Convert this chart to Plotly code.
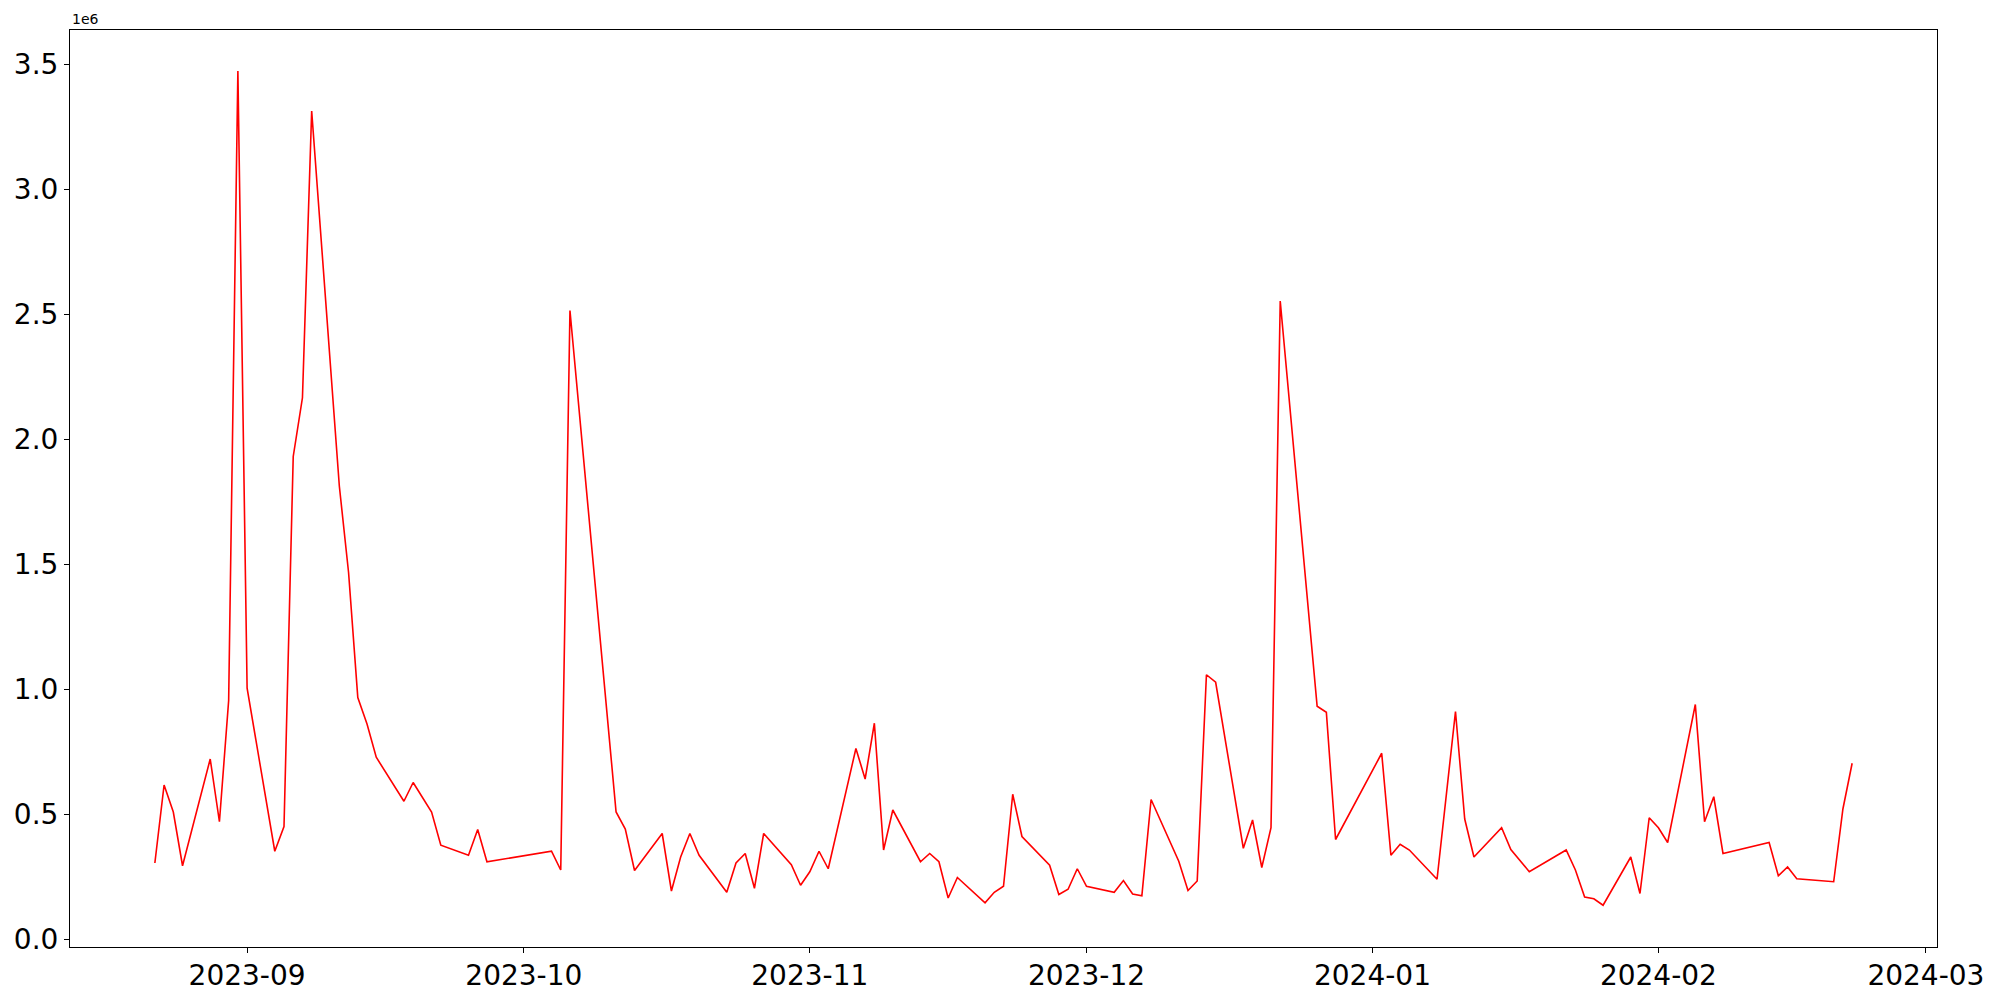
import plotly.graph_objects as go

dates = [
    "2023-08-22", "2023-08-23", "2023-08-24", "2023-08-25", "2023-08-28", "2023-08-29", "2023-08-30", "2023-08-31",
    "2023-09-01", "2023-09-04", "2023-09-05", "2023-09-06", "2023-09-07", "2023-09-08", "2023-09-11", "2023-09-12",
    "2023-09-13", "2023-09-14", "2023-09-15", "2023-09-18", "2023-09-19", "2023-09-21", "2023-09-22", "2023-09-25",
    "2023-09-26", "2023-09-27", "2023-10-04", "2023-10-05", "2023-10-06", "2023-10-11", "2023-10-12", "2023-10-13",
    "2023-10-16", "2023-10-17", "2023-10-18", "2023-10-19", "2023-10-20", "2023-10-23", "2023-10-24", "2023-10-25",
    "2023-10-26", "2023-10-27", "2023-10-30", "2023-10-31", "2023-11-01", "2023-11-02", "2023-11-03", "2023-11-06",
    "2023-11-07", "2023-11-08", "2023-11-09", "2023-11-10", "2023-11-13", "2023-11-14", "2023-11-15", "2023-11-16",
    "2023-11-17", "2023-11-20", "2023-11-21", "2023-11-22", "2023-11-23", "2023-11-24", "2023-11-27", "2023-11-28",
    "2023-11-29", "2023-11-30", "2023-12-01", "2023-12-04", "2023-12-05", "2023-12-06", "2023-12-07", "2023-12-08",
    "2023-12-11", "2023-12-12", "2023-12-13", "2023-12-14", "2023-12-15", "2023-12-18", "2023-12-19", "2023-12-20",
    "2023-12-21", "2023-12-22", "2023-12-26", "2023-12-27", "2023-12-28", "2024-01-02", "2024-01-03", "2024-01-04",
    "2024-01-05", "2024-01-08", "2024-01-10", "2024-01-11", "2024-01-12", "2024-01-15", "2024-01-16", "2024-01-18",
    "2024-01-22", "2024-01-23", "2024-01-24", "2024-01-25", "2024-01-26", "2024-01-29", "2024-01-30", "2024-01-31",
    "2024-02-01", "2024-02-02", "2024-02-05", "2024-02-06", "2024-02-07", "2024-02-08", "2024-02-13", "2024-02-14",
    "2024-02-15", "2024-02-16", "2024-02-20", "2024-02-21", "2024-02-22",
]

values = [
    304000, 616000, 508000, 293000, 720000, 469000, 954000, 3472000,
    1003000, 351000, 450000, 1930000, 2165000, 3312000, 1811000, 1466000,
    966000, 860000, 727000, 551000, 626000, 508000, 375000, 335000,
    438000, 309000, 351000, 276000, 2514000, 508000, 440000, 274000,
    422000, 192000, 328000, 422000, 335000, 187000, 304000, 342000,
    203000, 422000, 297000, 215000, 269000, 351000, 281000, 762000,
    640000, 863000, 356000, 516000, 309000, 342000, 309000, 164000,
    246000, 145000, 187000, 211000, 579000, 410000, 295000, 178000,
    199000, 281000, 211000, 187000, 234000, 180000, 173000, 558000,
    311000, 194000, 232000, 1057000, 1027000, 363000, 476000, 286000,
    445000, 2552000, 931000, 907000, 398000, 743000, 335000, 379000,
    356000, 239000, 910000, 480000, 328000, 445000, 358000, 269000,
    356000, 276000, 168000, 161000, 135000, 328000, 182000, 485000,
    445000, 386000, 938000, 469000, 569000, 342000, 386000, 253000,
    288000, 241000, 229000, 520000, 703000,
]

x_tick_vals = ["2023-09-01", "2023-10-01", "2023-11-01", "2023-12-01", "2024-01-01", "2024-02-01", "2024-03-01"]
x_tick_text = ["2023-09", "2023-10", "2023-11", "2023-12", "2024-01", "2024-02", "2024-03"]
y_tick_vals = [0, 500000, 1000000, 1500000, 2000000, 2500000, 3000000, 3500000]
y_tick_text = ["0.0", "0.5", "1.0", "1.5", "2.0", "2.5", "3.0", "3.5"]

FONT = "DejaVu Sans"

fig = go.Figure()
fig.add_trace(go.Scatter(
    x=dates, y=values, mode="lines",
    line=dict(color="red", width=1.6),
    showlegend=False, hoverinfo="x+y",
))

# page body has an 8px default margin; size/margins compensate for it
fig.update_layout(
    width=1984, height=992,
    margin=dict(l=62, r=55, t=22, b=53),
    paper_bgcolor="white", plot_bgcolor="white",
    font=dict(family=FONT, color="black"),
)

fig.update_xaxes(
    type="date",
    range=["2023-08-12 19:12", "2024-03-02 04:48"],
    tickvals=x_tick_vals, ticktext=x_tick_text,
    tickfont=dict(family=FONT, size=28, color="black"),
    ticks="outside", ticklen=5, tickwidth=1, tickcolor="black",
    ticklabelstandoff=-2,
    showline=True, linecolor="black", linewidth=1, mirror=True,
    showgrid=False, zeroline=False, automargin=False,
)

fig.update_yaxes(
    range=[-32000, 3636000],
    tickvals=y_tick_vals, ticktext=y_tick_text,
    tickfont=dict(family=FONT, size=28, color="black"),
    ticks="outside", ticklen=5, tickwidth=1, tickcolor="black",
    showline=True, linecolor="black", linewidth=1, mirror=True,
    showgrid=False, zeroline=False, automargin=False,
)

fig.add_annotation(
    text="1e6", xref="paper", yref="paper", x=0, y=1,
    xanchor="left", yanchor="bottom", yshift=1, showarrow=False,
    font=dict(family=FONT, size=14, color="black"),
)

fig.write_html("out.html")
